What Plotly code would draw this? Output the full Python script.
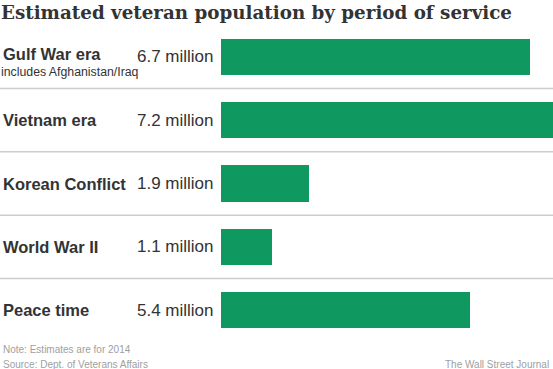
import plotly.graph_objects as go

categories = ["Gulf War era", "Vietnam era", "Korean Conflict", "World War II", "Peace time"]
values = [6.7, 7.2, 1.9, 1.1, 5.4]
value_labels = ["6.7 million", "7.2 million", "1.9 million", "1.1 million", "5.4 million"]
sublabels = ["includes Afghanistan/Iraq", "", "", "", ""]

GREEN = "#0f9961"
W, H = 553, 369
L, T, B = 221, 25, 27
plot_w = W - L
plot_h = H - T - B


def px(x):
    return (x - L) / plot_w


def py(y):
    return (H - B - y) / plot_h


fig = go.Figure(go.Bar(
    x=values, y=categories, orientation="h",
    marker=dict(color=GREEN, line=dict(width=0)),
    width=0.57, hoverinfo="skip",
))

ann = []
for c, v, s in zip(categories, value_labels, sublabels):
    ann.append(dict(x=px(1), y=c, xref="paper", yref="y", text=f"<b>{c}</b>", showarrow=False,
                    xanchor="left", yanchor="middle", yshift=3 if s else 0,
                    font=dict(family="Arial, Liberation Sans", size=16.5, color="#333")))
    if s:
        ann.append(dict(x=px(-1), y=c, xref="paper", yref="y", text=s, showarrow=False,
                        xanchor="left", yanchor="middle", yshift=-15,
                        font=dict(family="Arial, Liberation Sans", size=12.3, color="#333")))
    ann.append(dict(x=0, y=c, xref="paper", yref="y", text=v, showarrow=False,
                    xanchor="right", yanchor="middle", xshift=-5,
                    font=dict(family="Arial, Liberation Sans", size=17, color="#333")))

for txt, y in [("Note: Estimates are for 2014", 349), ("Source: Dept. of Veterans Affairs", 364)]:
    ann.append(dict(x=px(1), y=py(y), xref="paper", yref="paper", text=txt, showarrow=False,
                    xanchor="left", yanchor="middle",
                    font=dict(family="Arial, Liberation Sans", size=10, color="#a0a0a0")))
ann.append(dict(x=px(551), y=py(364), xref="paper", yref="paper", text="The Wall Street Journal",
                showarrow=False, xanchor="right", yanchor="middle",
                font=dict(family="Arial, Liberation Sans", size=10, color="#a0a0a0")))

shapes = []
for i in range(len(categories) - 1):
    shapes.append(dict(type="line", xref="paper", yref="y", x0=px(0), x1=1,
                       y0=i + 0.5, y1=i + 0.5, line=dict(color="#cccccc", width=1.5), layer="below"))

fig.update_layout(
    width=W, height=H,
    margin=dict(l=L, r=0, t=T, b=B),
    paper_bgcolor="white", plot_bgcolor="white",
    title=dict(text="<b>Estimated veteran population by period of service</b>",
               x=1 / W, xanchor="left", xref="container", y=1 - 13 / H, yref="container", yanchor="middle",
               font=dict(family="DejaVu Serif", size=18.3, color="#333")),
    xaxis=dict(range=[0, 7.2], visible=False, fixedrange=True),
    yaxis=dict(categoryorder="array", categoryarray=categories,
               visible=False, range=[4.5, -0.5], fixedrange=True),
    showlegend=False,
    annotations=ann, shapes=shapes,
    bargap=0,
)
fig.write_html("out.html", config={"displayModeBar": False},
               post_script="document.body.style.margin='0';document.body.style.overflow='hidden';")
